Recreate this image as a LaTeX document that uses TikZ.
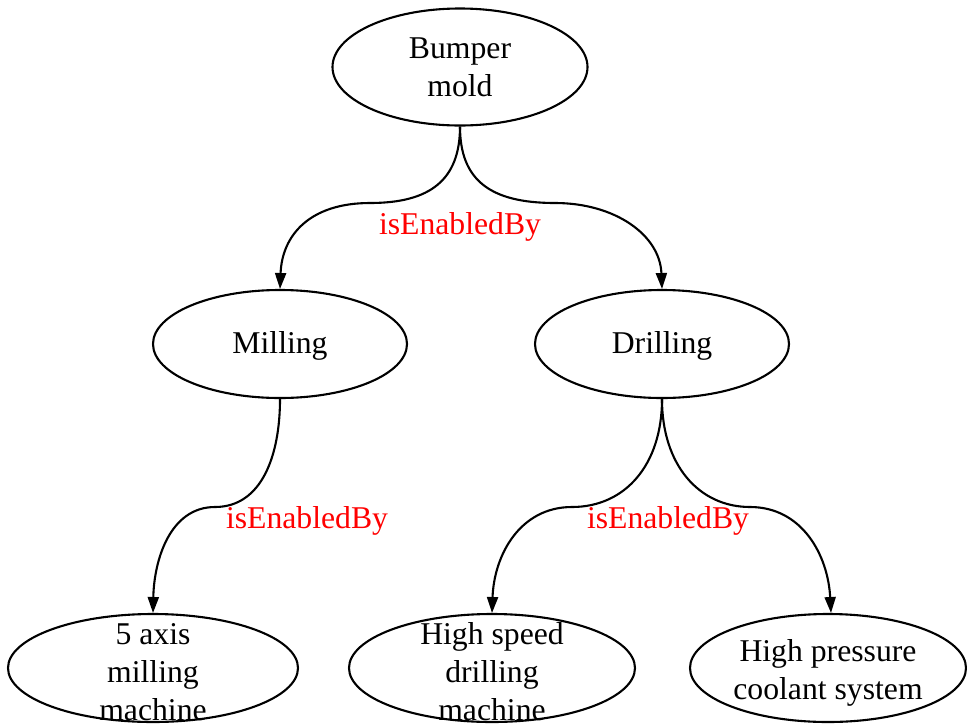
\documentclass[tikz,border=0pt]{standalone}
\usepackage{fontspec}
\setmainfont{Liberation Serif}
\usetikzlibrary{arrows.meta,shapes.geometric}
\tikzset{
  oval/.style={draw, ellipse, line width=2.1pt, inner sep=0pt, align=center,
    font=\fontsize{31.7}{38}\selectfont},
  edgelbl/.style={text=red, font=\fontsize{31.7}{38}\selectfont, inner sep=0pt},
  link/.style={line width=2.1pt, -{Triangle[length=16pt,width=11pt]}},
  inlbl/.style={align=center, font=\fontsize{31.7}{38}\selectfont, inner sep=0pt}
}
\begin{document}
\begin{tikzpicture}[x=1pt,y=-1pt]
\useasboundingbox (0,0) rectangle (967,726);

\node[oval, minimum width=255pt, minimum height=117pt] (bump) at (460,67) {Bumper\\mold};
\node[oval, minimum width=254pt, minimum height=108pt,
  label={[inlbl, yshift=-2pt]center:Milling}] (mill) at (280,344) {};
\node[oval, minimum width=254pt, minimum height=108pt,
  label={[inlbl, yshift=-2pt]center:Drilling}] (drill) at (662,344) {};

\node[oval, minimum width=290pt, minimum height=108pt,
  label={[inlbl, yshift=-4pt]center:{5 axis\\milling\\machine}}] (five) at (153,668) {};
\node[oval, minimum width=286pt, minimum height=108pt,
  label={[inlbl, yshift=-4pt]center:{High speed\\drilling\\machine}}] (hsd) at (492,668) {};
\node[oval, minimum width=276pt, minimum height=108pt,
  label={[inlbl, yshift=-5pt]center:{High pressure\\coolant system}}] (hpc) at (828,668) {};

% edges from the mold to the processes
\draw[link] (bump.south) .. controls (460,180) and (430,203) .. (370,203)
  .. controls (310,203) and (282,235) .. (280,289);
\draw[link] (bump.south) .. controls (460,180) and (490,203) .. (555,203)
  .. controls (615,203) and (660,235) .. (662,289);
\node[edgelbl] (l1) at (460,227) {isEnabledBy};

% edges from the processes to the equipment
\draw[link] (mill.south) .. controls (280,455) and (262,507) .. (215,507)
  .. controls (170,507) and (154,560) .. (153,613);
\node[edgelbl] (l2) at (307,521) {isEnabledBy};

\draw[link] (drill.south) .. controls (662,465) and (625,507) .. (572,507)
  .. controls (520,507) and (494,555) .. (492,613);
\draw[link] (drill.south) .. controls (662,465) and (699,507) .. (750,507)
  .. controls (802,507) and (828,555) .. (831,613);
\node[edgelbl] (l3) at (668,521) {isEnabledBy};
\end{tikzpicture}
\end{document}
